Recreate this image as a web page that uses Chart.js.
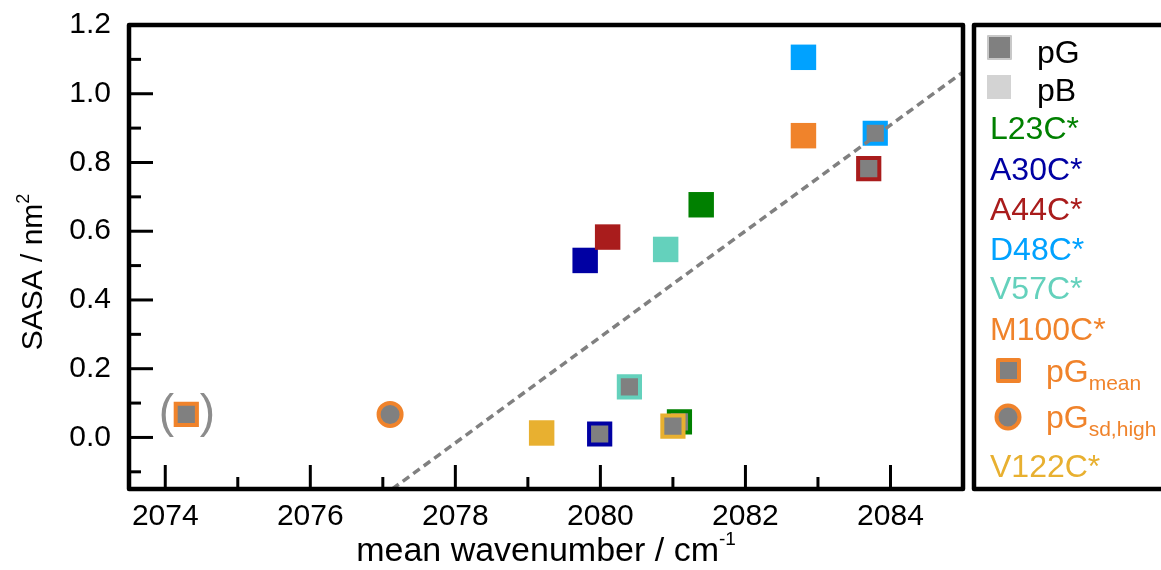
<!DOCTYPE html>
<html>
<head>
<meta charset="utf-8">
<script src="https://cdn.jsdelivr.net/npm/chart.js@4.4.0/dist/chart.umd.min.js"></script>
<style>
  html, body { margin: 0; padding: 0; background: #fff; }
  #wrap { width: 1161px; height: 570px; position: relative; }
</style>
</head>
<body>
<div id="wrap"><canvas id="sasaChart"></canvas></div>
<script>
// mutants and their colours
const mutants = ["L23C*", "A30C*", "A44C*", "D48C*", "V57C*", "M100C*", "V122C*"];
const mutantColors = ["#008000", "#0000a3", "#a91c1c", "#00a2ff", "#64d1bc", "#f0832b", "#e8b030"];

// pB (solid squares)
const pBx = [2081.39, 2079.79, 2080.10, 2082.80, 2080.90, 2082.80, 2079.19];
const pBy = [0.677, 0.515, 0.583, 1.106, 0.547, 0.878, 0.013];

// pG (grey squares with coloured border), null = no point
const pGx = [2081.09, 2079.99, 2083.70, 2083.79, 2080.40, null, 2081.00];
const pGy = [0.045, 0.010, 0.782, 0.885, 0.147, null, 0.033];

// pG mean / pG sd,high
const pGmeanX = [2074.29];
const pGmeanY = [0.067];
const pGsdX = [2077.10];
const pGsdY = [0.067];

// dashed fit line
const fitX = [2077.13, 2085.0];
const fitY = [-0.15, 1.063];

const FONT = '"Liberation Sans", Arial, sans-serif';
const GREY = "#808080";

function richText(ctx, x, y, parts, align) {
  let total = 0;
  parts.forEach(p => {
    ctx.font = p.size + "px " + FONT;
    p.w = ctx.measureText(p.t).width;
    total += p.w;
  });
  let cx = align === "center" ? x - total / 2 : x;
  ctx.textAlign = "left";
  ctx.textBaseline = "alphabetic";
  parts.forEach(p => {
    ctx.font = p.size + "px " + FONT;
    ctx.fillStyle = p.color || "#000";
    ctx.fillText(p.t, cx, y + (p.dy || 0));
    cx += p.w;
  });
}

const decorPlugin = {
  id: "decor",
  afterDraw(chart) {
    const ctx = chart.ctx;
    const area = chart.chartArea;
    const xs = chart.scales.x, ys = chart.scales.y;
    ctx.save();

    // inward ticks
    ctx.strokeStyle = "#000";
    ctx.lineWidth = 3;
    xs.ticks.forEach(t => {
      const px = xs.getPixelForValue(t.value);
      if (px > area.right - 3) return;
      const len = Math.round(t.value) % 2 === 0 ? 24 : 12;
      ctx.beginPath();
      ctx.moveTo(px, area.bottom);
      ctx.lineTo(px, area.bottom - len);
      ctx.stroke();
    });
    ys.ticks.forEach(t => {
      const py = ys.getPixelForValue(t.value);
      if (py < area.top + 3) return;
      const len = Math.round(t.value * 10) % 2 === 0 ? 24 : 12;
      ctx.beginPath();
      ctx.moveTo(area.left, py);
      ctx.lineTo(area.left + len, py);
      ctx.stroke();
    });

    // frame
    ctx.lineWidth = 4.5;
    ctx.lineJoin = "round";
    ctx.strokeRect(area.left, area.top, area.right - area.left, area.bottom - area.top);

    // brackets round the pG mean point
    const mx = xs.getPixelForValue(pGmeanX[0]);
    const my = ys.getPixelForValue(pGmeanY[0]);
    ctx.fillStyle = "#8c8c8c";
    ctx.font = "46px " + FONT;
    ctx.textAlign = "center";
    ctx.textBaseline = "alphabetic";
    ctx.fillText("(", mx - 20, my + 13);
    ctx.fillText(")", mx + 21, my + 13);

    // axis titles
    richText(ctx, (area.left + area.right) / 2, 561, [
      { t: "mean wavenumber / cm", size: 34 },
      { t: "-1", size: 19, dy: -16 }
    ], "center");
    ctx.save();
    ctx.translate(42, 272);
    ctx.rotate(-Math.PI / 2);
    richText(ctx, 0, 0, [
      { t: "SASA / nm", size: 30 },
      { t: "2", size: 18, dy: -13 }
    ], "center");
    ctx.restore();

    // legend box
    ctx.strokeStyle = "#000";
    ctx.lineWidth = 4.5;
    ctx.strokeRect(974, area.top, 220, area.bottom - area.top);

    // legend markers
    ctx.fillStyle = GREY;
    ctx.fillRect(988, 36, 23, 23);
    ctx.strokeStyle = "#c8c8c8";
    ctx.lineWidth = 2;
    ctx.strokeRect(988, 36, 23, 23);
    ctx.fillStyle = "#d3d3d3";
    ctx.fillRect(987, 75, 24, 24);

    richText(ctx, 1037, 63, [{ t: "pG", size: 32 }]);
    richText(ctx, 1037, 101, [{ t: "pB", size: 32 }]);

    const rows = [139, 180, 220, 260, 299, 340];
    for (let i = 0; i < 6; i++) {
      richText(ctx, 990, rows[i], [{ t: mutants[i], size: 32, color: mutantColors[i] }]);
    }

    const orange = mutantColors[5];
    ctx.fillStyle = GREY;
    ctx.fillRect(998, 360, 21, 21);
    ctx.strokeStyle = orange;
    ctx.lineWidth = 4;
    ctx.strokeRect(998, 360, 21, 21);
    richText(ctx, 1046, 382, [
      { t: "pG", size: 32, color: orange },
      { t: "mean", size: 21, dy: 8, color: orange }
    ]);

    ctx.beginPath();
    ctx.arc(1008, 417, 11.5, 0, Math.PI * 2);
    ctx.fillStyle = GREY;
    ctx.fill();
    ctx.strokeStyle = orange;
    ctx.lineWidth = 4;
    ctx.stroke();
    richText(ctx, 1046, 428, [
      { t: "pG", size: 32, color: orange },
      { t: "sd,high", size: 21, dy: 8, color: orange }
    ]);

    richText(ctx, 990, 477, [{ t: mutants[6], size: 32, color: mutantColors[6] }]);

    ctx.restore();
  }
};

const pGidx = pGx.map((v, i) => i).filter(i => pGx[i] !== null);

const datasets = [
  {
    label: "fit",
    data: fitX.map((x, i) => ({ x: x, y: fitY[i] })),
    showLine: true,
    borderColor: GREY,
    borderWidth: 3.5,
    borderDash: [8, 5],
    pointRadius: 0,
    order: 0
  },
  {
    label: "pG",
    data: pGidx.map(i => ({ x: pGx[i], y: pGy[i] })),
    pointStyle: "rect",
    pointRadius: 15,
    pointBackgroundColor: GREY,
    pointBorderColor: pGidx.map(i => mutantColors[i]),
    pointBorderWidth: 4,
    order: 2
  },
  {
    label: "pG mean",
    data: pGmeanX.map((x, i) => ({ x: x, y: pGmeanY[i] })),
    pointStyle: "rect",
    pointRadius: 15,
    pointBackgroundColor: GREY,
    pointBorderColor: mutantColors[5],
    pointBorderWidth: 4,
    order: 2
  },
  {
    label: "pG sd,high",
    data: pGsdX.map((x, i) => ({ x: x, y: pGsdY[i] })),
    pointStyle: "circle",
    pointRadius: 11.5,
    pointBackgroundColor: GREY,
    pointBorderColor: mutantColors[5],
    pointBorderWidth: 4,
    order: 2
  },
  {
    label: "pB",
    data: pBx.map((x, i) => ({ x: x, y: pBy[i] })),
    pointStyle: "rect",
    pointRadius: 18,
    pointBackgroundColor: mutantColors,
    pointBorderWidth: 0,
    order: 3
  }
];

new Chart(document.getElementById("sasaChart"), {
  type: "scatter",
  data: { datasets: datasets },
  options: {
    responsive: true,
    maintainAspectRatio: false,
    animation: false,
    events: [],
    layout: { padding: { top: 25, right: 198, left: 0, bottom: 0 } },
    plugins: {
      legend: { display: false },
      tooltip: { enabled: false }
    },
    scales: {
      x: {
        type: "linear",
        min: 2073.5,
        max: 2085,
        grid: { display: false },
        border: { display: false },
        afterFit: function (scale) { scale.height = 81; },
        ticks: {
          stepSize: 1,
          includeBounds: false,
          autoSkip: false,
          maxRotation: 0,
          padding: 2,
          color: "#000",
          font: { family: FONT, size: 30 },
          callback: function (value) {
            return Math.round(value) % 2 === 0 ? String(value) : "";
          }
        }
      },
      y: {
        type: "linear",
        min: -0.15,
        max: 1.2,
        grid: { display: false },
        border: { display: false },
        afterFit: function (scale) {
          scale.width = 129;
          scale.paddingTop = 0;
          scale.paddingBottom = 0;
        },
        ticks: {
          stepSize: 0.1,
          includeBounds: false,
          autoSkip: false,
          padding: 10,
          color: "#000",
          font: { family: FONT, size: 30, lineHeight: 0.2 },
          callback: function (value) {
            return Math.round(value * 10) % 2 === 0 ? value.toFixed(1) : "";
          }
        }
      }
    }
  },
  plugins: [decorPlugin]
});
</script>
</body>
</html>
